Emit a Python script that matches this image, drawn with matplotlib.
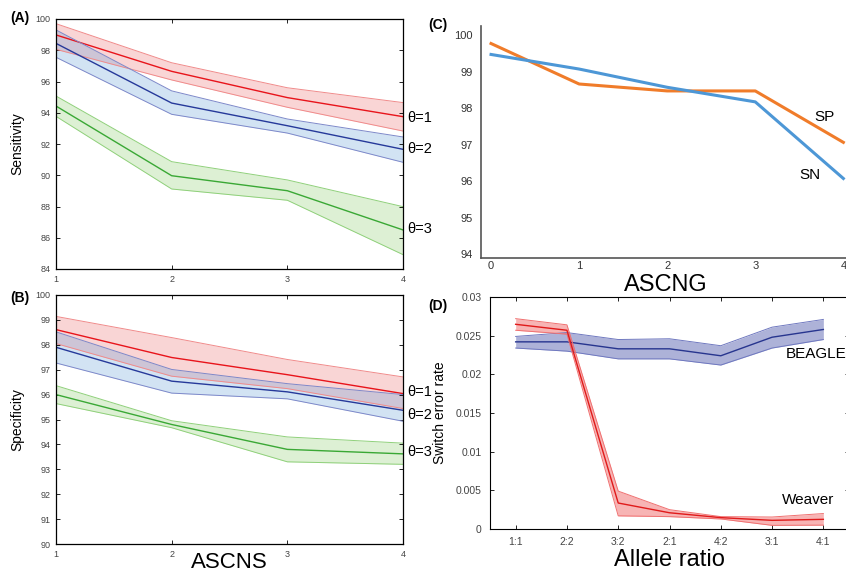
import matplotlib
matplotlib.use('Agg')
from matplotlib import pyplot as plt

plt.rcParams['font.family'] = ['Liberation Sans', 'DejaVu Sans']

# panel A: sensitivity vs ASCNS
ascns = [1, 2, 3, 4]
sens_t1 = [98.98, 96.65, 94.97, 93.75]
sens_t1_hi = [99.7, 97.2, 95.6, 94.65]
sens_t1_lo = [98.06, 96.1, 94.35, 92.83]
sens_t2 = [98.44, 94.62, 93.17, 91.66]
sens_t2_hi = [99.3, 95.4, 93.6, 92.45]
sens_t2_lo = [97.55, 93.9, 92.7, 90.83]
sens_t3 = [94.43, 89.97, 89.01, 86.5]
sens_t3_hi = [95.07, 90.87, 89.7, 87.99]
sens_t3_lo = [93.77, 89.12, 88.4, 84.92]

# panel B: specificity vs ASCNS
spec_t1 = [98.61, 97.49, 96.8, 96.04]
spec_t1_hi = [99.14, 98.29, 97.41, 96.71]
spec_t1_lo = [98.05, 96.74, 96.24, 95.44]
spec_t2 = [97.9, 96.54, 96.11, 95.37]
spec_t2_hi = [98.52, 97.01, 96.44, 96.0]
spec_t2_lo = [97.27, 96.06, 95.83, 94.93]
spec_t3 = [96.0, 94.8, 93.8, 93.62]
spec_t3_hi = [96.36, 94.95, 94.3, 94.05]
spec_t3_lo = [95.64, 94.67, 93.3, 93.2]

# panel C: SP / SN vs ASCNG
ascng = [0, 1, 2, 3, 4]
sp = [99.77, 98.66, 98.47, 98.47, 97.06]
sn = [99.47, 99.07, 98.57, 98.17, 96.07]

# panel D: switch error rate vs allele ratio
ratios = ['1:1', '2:2', '3:2', '2:1', '4:2', '3:1', '4:1']
beagle = [0.0242, 0.0242, 0.0233, 0.0233, 0.0224, 0.0248, 0.0258]
beagle_hi = [0.0249, 0.0254, 0.0245, 0.0246, 0.0237, 0.0261, 0.0271]
beagle_lo = [0.0234, 0.0230, 0.0220, 0.0220, 0.0212, 0.0234, 0.0245]
weaver = [0.02647, 0.0257, 0.00336, 0.0021, 0.00147, 0.00112, 0.00125]
weaver_hi = [0.0272, 0.0264, 0.0049, 0.0025, 0.0016, 0.00155, 0.0020]
weaver_lo = [0.0257, 0.0252, 0.0017, 0.0016, 0.0013, 0.00047, 0.0005]

W, H = 846, 575
fig = plt.figure(figsize=(W / 100, H / 100), dpi=100)


def box(l, t, r, b):
    return fig.add_axes([l / W, 1 - b / H, (r - l) / W, (b - t) / H])


def band(ax, x, y, lo, hi, line_c, edge_c, fill_c, alpha):
    ax.fill_between(x, lo, hi, color=fill_c, alpha=alpha, lw=0)
    ax.plot(x, lo, color=edge_c, lw=0.7)
    ax.plot(x, hi, color=edge_c, lw=0.7)
    ax.plot(x, y, color=line_c, lw=1.0)


def theta_panel(ax):
    ax.set_xlim(1, 4)
    ax.set_xticks(ascns)
    ax.tick_params(direction='in', top=True, right=True, labelsize=6.5,
                   labelcolor='#444444', length=3, width=0.6, pad=4)
    for s in ax.spines.values():
        s.set_linewidth(0.9)


RED = ('#e8141b', '#f08a8a', '#e85a5a', 0.25)
BLUE = ('#26399a', '#7d88c9', '#6aa3da', 0.3)
GREEN = ('#3aa835', '#8fd07a', '#8fcf72', 0.3)

ax = box(56, 19, 403, 269)
band(ax, ascns, sens_t1, sens_t1_lo, sens_t1_hi, *RED)
band(ax, ascns, sens_t2, sens_t2_lo, sens_t2_hi, *BLUE)
band(ax, ascns, sens_t3, sens_t3_lo, sens_t3_hi, *GREEN)
theta_panel(ax)
ax.set_ylim(84, 100)
ax.set_yticks(range(84, 101, 2))
ax.set_ylabel('Sensitivity', fontsize=10, labelpad=8)
fig.text(10 / W, 1 - 18 / H, '(A)', fontsize=10, fontweight='bold', va='center')
for txt, y in [('θ=1', 118), ('θ=2', 149), ('θ=3', 229)]:
    fig.text(407 / W, 1 - y / H, txt, fontsize=10.5, va='center')

ax = box(56, 295, 403, 544)
band(ax, ascns, spec_t1, spec_t1_lo, spec_t1_hi, *RED)
band(ax, ascns, spec_t2, spec_t2_lo, spec_t2_hi, *BLUE)
band(ax, ascns, spec_t3, spec_t3_lo, spec_t3_hi, *GREEN)
theta_panel(ax)
ax.set_ylim(90, 100)
ax.set_yticks(range(90, 101))
ax.set_ylabel('Specificity', fontsize=10, labelpad=8)
ax.set_xlabel('ASCNS', fontsize=16, labelpad=-5)
fig.text(10 / W, 1 - 298 / H, '(B)', fontsize=10, fontweight='bold', va='center')
for txt, y in [('θ=1', 392), ('θ=2', 415), ('θ=3', 452)]:
    fig.text(407 / W, 1 - y / H, txt, fontsize=10.5, va='center')

ax = box(481, 26, 846, 258)
ax.plot(ascng, sp, color='#f07c2a', lw=2.2)
ax.plot(ascng, sn, color='#4d97d6', lw=2.2)
ax.set_xlim(-0.114, 4.03)
ax.set_ylim(93.89, 100.25)
ax.set_xticks(ascng)
ax.set_yticks(range(94, 101))
for s in ['top', 'right']:
    ax.spines[s].set_visible(False)
for s in ['left', 'bottom']:
    ax.spines[s].set_color('#555555')
    ax.spines[s].set_linewidth(1.2)
ax.tick_params(axis='y', length=0, labelsize=8, labelcolor='#333333', pad=6)
ax.tick_params(axis='x', length=0, labelsize=8, labelcolor='#333333', pad=2)
ax.text(824 / W, 1 - 117 / H, 'SP', transform=fig.transFigure, fontsize=11,
        ha='center', va='center')
ax.text(810 / W, 1 - 175 / H, 'SN', transform=fig.transFigure, fontsize=11,
        ha='center', va='center')
fig.text(666 / W, 1 - 285 / H, 'ASCNG', fontsize=17, ha='center', va='center')
fig.text(428 / W, 1 - 25 / H, '(C)', fontsize=10, fontweight='bold', va='center')

ax = box(490, 297, 849, 529)
xs = list(range(len(ratios)))
ax.fill_between(xs, beagle_lo, beagle_hi, color='#4b55aa', alpha=0.45, lw=0)
ax.plot(xs, beagle_lo, color='#6f78bf', lw=0.7)
ax.plot(xs, beagle_hi, color='#6f78bf', lw=0.7)
ax.plot(xs, beagle, color='#27358f', lw=1.0)
ax.fill_between(xs, weaver_lo, weaver_hi, color='#ee5a5a', alpha=0.45, lw=0)
ax.plot(xs, weaver_lo, color='#f07070', lw=0.7)
ax.plot(xs, weaver_hi, color='#f07070', lw=0.7)
ax.plot(xs, weaver, color='#e01a1a', lw=1.0)
ax.set_xlim(-0.5, 6.5)
ax.set_ylim(0, 0.03)
ax.set_xticks(xs)
ax.set_xticklabels(ratios)
ax.set_yticks([0, 0.005, 0.01, 0.015, 0.02, 0.025, 0.03])
ax.set_yticklabels(['0', '0.005', '0.01', '0.015', '0.02', '0.025', '0.03'])
ax.tick_params(direction='in', top=True, right=True, labelsize=7.5,
               labelcolor='#444444', length=3, width=0.6, pad=6)
ax.set_ylabel('Switch error rate', fontsize=10, labelpad=6)
ax.set_xlabel('Allele ratio', fontsize=17, labelpad=1)
ax.text(816 / W, 1 - 354 / H, 'BEAGLE', transform=fig.transFigure, fontsize=11,
        ha='center', va='center')
ax.text(808 / W, 1 - 500 / H, 'Weaver', transform=fig.transFigure, fontsize=11,
        ha='center', va='center')
fig.text(428 / W, 1 - 306 / H, '(D)', fontsize=10, fontweight='bold', va='center')

fig.savefig('out.png', dpi=100)
